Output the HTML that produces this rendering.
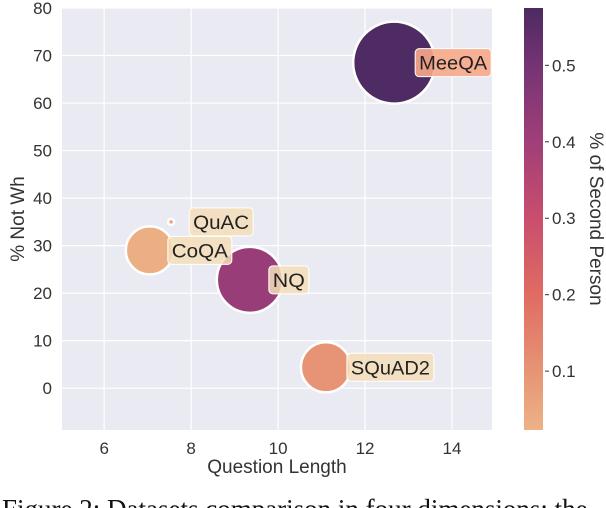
<!DOCTYPE html>
<html><head><meta charset="utf-8"><style>
body{margin:0;background:#fff;width:606px;height:508px;overflow:hidden;position:relative}
svg{position:absolute;left:0;top:0}
</style></head><body>
<svg id="chart" width="606" height="508" xmlns="http://www.w3.org/2000/svg" font-family="'Liberation Sans', sans-serif">
<defs>
<linearGradient id="cg" x1="0" y1="1" x2="0" y2="0">
<stop offset="0" stop-color="#edb286"/>
<stop offset="0.14" stop-color="#e69475"/>
<stop offset="0.32" stop-color="#e06c62"/>
<stop offset="0.5" stop-color="#c94e6d"/>
<stop offset="0.68" stop-color="#a13f78"/>
<stop offset="0.86" stop-color="#763474"/>
<stop offset="1" stop-color="#4c2a62"/>
</linearGradient>
</defs>
<g id="plot"></g>
<text x="2" y="518" font-family="'Liberation Serif', serif" font-size="27" fill="#111">Figure 2: Datasets comparison in four dimensions: the</text>
</svg>
<script>
const names=["MeeQA","QuAC","CoQA","NQ","SQuAD2"];
const qlen=[12.67,7.54,7.05,9.35,11.1];
const notWh=[68.5,35,29,22.8,4.4];
const sizes=[41,3,24,33,25];
const second=[0.57,0.06,0.03,0.42,0.1];
const xTicks=[6,8,10,12,14];
const yTicks=[0,10,20,30,40,50,60,70,80];
const cTicks=[0.1,0.2,0.3,0.4,0.5];
const L=62,R=492,T=8,B=430;
const X0=5.03,X1=14.92,Y0=-8.8,Y1=80;
const sx=v=>L+(v-X0)/(X1-X0)*(R-L);
const sy=v=>B-(v-Y0)/(Y1-Y0)*(B-T);
const C0=0.023,C1=0.575;
const cy=v=>B-(v-C0)/(C1-C0)*(B-T);
const labelDx=[21,18,18,19,21];
const labelW=[76,64,64,40,87];
const stops=[[0,"#edb286"],[0.14,"#e69475"],[0.32,"#e06c62"],[0.5,"#c94e6d"],[0.68,"#a13f78"],[0.86,"#763474"],[1,"#4c2a62"]];
function hex(h){return [1,3,5].map(i=>parseInt(h.substr(i,2),16));}
function cmap(v){let t=Math.max(0,Math.min(1,(v-C0)/(C1-C0)));for(let i=1;i<stops.length;i++){if(t<=stops[i][0]){const a=hex(stops[i-1][1]),b=hex(stops[i][1]);const f=(t-stops[i-1][0])/(stops[i][0]-stops[i-1][0]);return "rgb("+a.map((c,k)=>Math.round(c+(b[k]-c)*f)).join(",")+")";}}return stops[6][1];}
const NS="http://www.w3.org/2000/svg";
const g=document.getElementById("plot");
function el(t,a,p){const e=document.createElementNS(NS,t);for(const k in a)e.setAttribute(k,a[k]);(p||g).appendChild(e);return e;}
const bg=el("rect",{x:L,y:T,width:R-L,height:B-T,fill:"#eaeaf2"});


xTicks.forEach(v=>{
const ln=el("line",{x1:sx(v),x2:sx(v),y1:T,y2:B,stroke:"#fff","stroke-width":1.2});


const t=el("text",{x:sx(v),y:B+24,"text-anchor":"middle","font-size":17,fill:"#333"});t.textContent=v;


});
yTicks.forEach(v=>{
const ln=el("line",{x1:L,x2:R,y1:sy(v),y2:sy(v),stroke:"#fff","stroke-width":1.2});


const t=el("text",{x:52,y:sy(v)+6,"text-anchor":"end","font-size":17,fill:"#333"});t.textContent=v;


});
names.forEach((n,i)=>{
const c=el("circle",{cx:sx(qlen[i]),cy:sy(notWh[i]),r:sizes[i],fill:cmap(second[i]),stroke:"#fff","stroke-width":2.5});


});
names.forEach((n,i)=>{
const x=sx(qlen[i])+labelDx[i];
const y=sy(notWh[i]);
const w=labelW[i];
const r=el("rect",{x:x,y:y-14,width:w,height:28,rx:4,fill:i==0?"#f8a98a":"#f5deba","fill-opacity":i==0?0.9:0.85,stroke:"#fff","stroke-width":1});


const t=el("text",{x:x+w/2,y:y+7,"text-anchor":"middle","font-size":19.5,fill:"#222",textLength:w-8,lengthAdjust:"spacingAndGlyphs"});t.textContent=n;


});
const xt=el("text",{x:(L+R)/2,y:473,"text-anchor":"middle","font-size":19,fill:"#333"});xt.textContent="Question Length";


const yt=el("text",{x:0,y:0,transform:"translate(24,"+((T+B)/2)+") rotate(-90)","text-anchor":"middle","font-size":19,fill:"#333"});yt.textContent="% Not Wh";


const cb=el("rect",{x:524,y:T,width:19,height:B-T,fill:"url(#cg)"});


cTicks.forEach(v=>{
const ln=el("line",{x1:545,x2:549,y1:cy(v),y2:cy(v),stroke:"#333","stroke-width":1});


const t=el("text",{x:552,y:cy(v)+6,"font-size":17,fill:"#333"});t.textContent=v.toFixed(1);


});
const ct=el("text",{x:0,y:0,transform:"translate(590,"+((T+B)/2)+") rotate(90)","text-anchor":"middle","font-size":19,fill:"#333"});ct.textContent="% of Second Person";


</script>
</body></html>
